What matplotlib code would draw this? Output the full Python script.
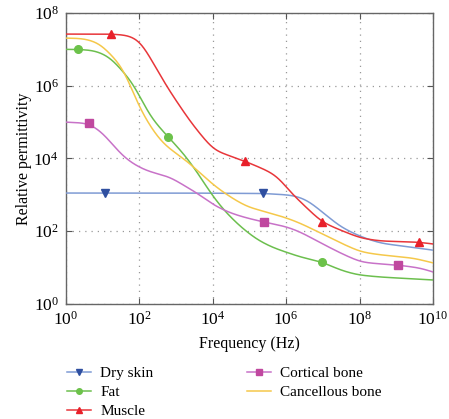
import numpy as np
import matplotlib
matplotlib.use("Agg")
import matplotlib.pyplot as plt

plt.rcParams['font.family'] = ['Liberation Serif', 'DejaVu Serif']
plt.rcParams['mathtext.fontset'] = 'stix'

# log10(frequency) and log10(relative permittivity)
dry_f = [0, 1.07, 3.0, 5.36, 6.2, 6.58, 7.02, 7.48, 8.03, 8.57, 9.34, 10]
dry_e = [3.05, 3.05, 3.05, 3.04, 2.99, 2.86, 2.5, 2.12, 1.85, 1.67, 1.57, 1.48]
dry_mk = [1, 3]

fat_f = [0, 0.33, 0.8, 1.21, 1.84, 2.3, 2.79, 3.2, 3.58, 3.94, 4.3, 4.76, 5.22, 5.66, 5.84, 6.39, 6.99, 7.48, 7.94, 8.57, 10]
fat_e = [7.0, 7.0, 6.97, 6.79, 6.07, 5.14, 4.59, 4.15, 3.63, 3.05, 2.58, 2.12, 1.76, 1.54, 1.48, 1.29, 1.15, 0.93, 0.8, 0.74, 0.66]
fat_mk = [1, 6, 16]

mus_f = [0, 1.24, 1.7, 2.03, 2.76, 3.4, 4.02, 4.87, 5.57, 5.84, 6.02, 6.2, 6.97, 7.48, 8.03, 8.57, 9.61, 10]
mus_e = [7.42, 7.42, 7.39, 7.25, 5.96, 5.0, 4.23, 3.93, 3.63, 3.45, 3.18, 2.99, 2.25, 2.03, 1.81, 1.73, 1.7, 1.65]
mus_mk = [1, 7, 12, 16]

cor_f = [0, 0.64, 1.02, 1.4, 1.67, 2.03, 2.3, 2.85, 3.2, 3.58, 4.02, 4.48, 4.94, 5.41, 6.03, 6.39, 6.94, 7.48, 8.03, 8.57, 9.04, 9.66, 10]
cor_e = [5.0, 4.97, 4.7, 4.23, 3.96, 3.74, 3.63, 3.49, 3.27, 3.05, 2.72, 2.5, 2.36, 2.25, 2.12, 1.98, 1.68, 1.4, 1.15, 1.1, 1.07, 0.99, 0.88]
cor_mk = [1, 13, 20]

can_f = [0, 0.5, 0.93, 1.56, 2.03, 2.49, 2.76, 3.2, 3.58, 4.02, 4.48, 4.94, 5.57, 6.03, 6.39, 6.94, 7.48, 8.03, 8.57, 9.48, 10]
can_e = [7.31, 7.3, 7.17, 6.51, 5.33, 4.59, 4.31, 4.01, 3.68, 3.27, 2.94, 2.67, 2.5, 2.36, 2.22, 1.95, 1.68, 1.43, 1.35, 1.26, 1.13]

labels = ['Dry skin', 'Fat', 'Muscle', 'Cortical bone', 'Cancellous bone']


def smooth(xs, ys, n=1001, sigma=0.18):
    xs = np.asarray(xs, float)
    ys = np.asarray(ys, float)
    xx = np.linspace(xs[0], xs[-1], n)
    yy = np.interp(xx, xs, ys)
    dx = xx[1] - xx[0]
    k = int(4 * sigma / dx)
    kern = np.exp(-0.5 * (np.arange(-k, k + 1) * dx / sigma) ** 2)
    kern /= kern.sum()
    # linear extrapolation padding keeps the end slopes
    left = yy[0] + (yy[0] - yy[1]) * np.arange(k, 0, -1)
    right = yy[-1] + (yy[-1] - yy[-2]) * np.arange(1, k + 1)
    padded = np.concatenate([left, yy, right])
    ys2 = np.convolve(padded, kern, mode='valid')
    return 10**xx, 10**ys2


fig = plt.figure(figsize=(4.49, 4.19), dpi=100)
ax = fig.add_axes([0.1463, 0.2745, 0.8181, 0.6945])

series = [
    (dry_f, dry_e, dry_mk, '#7f9bd4', '#2f4fa0', 'v', labels[0]),
    (fat_f, fat_e, fat_mk, '#6cbf4e', '#6cc24a', 'o', labels[1]),
    (mus_f, mus_e, mus_mk, '#e8363a', '#e8202a', '^', labels[2]),
    (cor_f, cor_e, cor_mk, '#c872c8', '#c0489f', 's', labels[3]),
    (can_f, can_e, None, '#f5c84a', '#f5c84a', None, labels[4]),
]

for f, e, mk, lc, mc, m, lab in series:
    x, y = smooth(f, e)
    ax.plot(x, y, color=lc, lw=1.1, zorder=3)
    if mk is not None:
        ax.plot(10**np.array(f)[mk], 10**np.array(e)[mk], ls='none', marker=m,
                color=mc, ms=5.5, zorder=4)
    ax.plot([], [], color=lc, lw=1.1, marker=m, mfc=mc, mec=mc, ms=4, label=lab)

ax.set_xscale('log')
ax.set_yscale('log')
ax.set_xlim(1, 1e10)
ax.set_ylim(1, 1e8)
ax.set_xticks([10.0**k for k in range(0, 11, 2)])
ax.set_yticks([10.0**k for k in range(0, 9, 2)])
ax.minorticks_off()
ax.tick_params(direction='in', top=True, right=True, length=4, labelsize=12.5,
               color='#555555', pad=5)
ax.grid(True, ls=(0, (1, 4)), color='#999999', lw=0.9)
for s in ax.spines.values():
    s.set_color('#666666')
    s.set_linewidth(1.0)

ax.set_xlabel('Frequency (Hz)', fontsize=11.5, labelpad=5)
ax.set_ylabel('Relative permittivity', fontsize=11.5, labelpad=1)

leg = fig.legend(loc='upper left', bbox_to_anchor=(0.135, 0.14), ncol=2, frameon=False,
                 fontsize=11, handlelength=1.6, columnspacing=6.1, labelspacing=0.35,
                 handletextpad=0.6, borderaxespad=0)

fig.savefig('out.png', dpi=100)
